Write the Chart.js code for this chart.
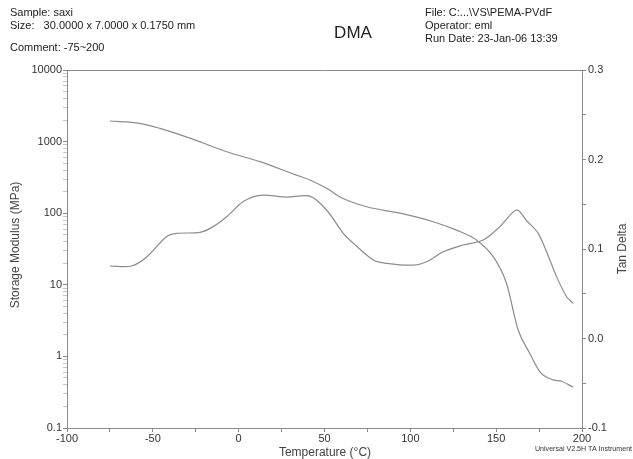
<!DOCTYPE html>
<html>
<head>
<meta charset="utf-8">
<script src="https://cdn.jsdelivr.net/npm/chart.js@4/dist/chart.umd.min.js"></script>
<style>
  html, body { margin: 0; padding: 0; background: #fff; }
  #wrap { position: relative; width: 633px; height: 459px; }
</style>
</head>
<body>
<div id="wrap"><canvas id="dma" width="633" height="459"></canvas></div>
<script>
// temperature (°C) and storage modulus (MPa)
const tempE = [-75, -57.5, -45.8, -26.4, -7, 12.4, 31.8, 41.5, 51.2, 60.9, 74.5, 94, 113.3, 126.9, 138.6, 148.3, 156, 162.8, 169.6, 175.5, 183.2, 188.1, 194.9];
const storageModulus = [1940, 1800, 1530, 1076, 722, 525, 353, 291, 223, 160, 123, 100, 76, 58, 42, 24.7, 10.5, 2.34, 1.1, 0.61, 0.47, 0.45, 0.37];

// temperature (°C) and tan delta
const tempTan = [-75, -62.4, -53.6, -42, -36.1, -22.5, -14.8, -7, 2.7, 12.4, 28, 41.5, 51.2, 60.9, 66.8, 78.4, 86.2, 101.7, 109.5, 119.2, 130.8, 142.5, 152.2, 161.9, 168, 174.5, 181.3, 185.2, 191, 194.9];
const tanDelta = [0.081, 0.081, 0.091, 0.114, 0.1175, 0.1186, 0.125, 0.136, 0.153, 0.160, 0.158, 0.159, 0.1436, 0.1175, 0.1064, 0.0877, 0.084, 0.082, 0.0858, 0.097, 0.1045, 0.110, 0.125, 0.1436, 0.131, 0.1175, 0.0877, 0.069, 0.0467, 0.0393];

const xTickLabels = ['-100', '-50', '0', '50', '100', '150', '200'];
const yTickLabels = ['0.1', '1', '10', '100', '1000', '10000'];
const y2TickLabels = ['-0.1', '0.0', '0.1', '0.2', '0.3'];

const headerLeft = ['Sample: saxi', 'Size:   30.0000 x 7.0000 x 0.1750 mm'];
const headerRight = ['File: C:...\\VS\\PEMA-PVdF', 'Operator: eml', 'Run Date: 23-Jan-06 13:39'];
const comment = 'Comment: -75~200';
const footer = 'Universal V2.5H TA Instrument';

const axisGray = '#8a8a8a';
const lineGray = '#8c8c8c';
const textGray = '#444';
const font = '"Liberation Sans", Arial, sans-serif';

// minor log ticks 0.1 .. 10000
const logTicks = [];
[0.1, 1, 10, 100, 1000].forEach(d => {
  for (let k = 1; k <= 9; k++) logTicks.push(+(d * k).toPrecision(3));
});
logTicks.push(10000);

const isDecade = v => Math.abs(Math.log10(v) - Math.round(Math.log10(v))) < 1e-9;

const textPlugin = {
  id: 'dmaText',
  afterDraw(chart) {
    const ctx = chart.ctx;
    const a = chart.chartArea;
    ctx.save();
    // top edge of the frame
    ctx.strokeStyle = axisGray;
    ctx.lineWidth = 1;
    ctx.beginPath();
    ctx.moveTo(a.left, a.top + 0.5);
    ctx.lineTo(a.right, a.top + 0.5);
    ctx.stroke();

    ctx.fillStyle = '#222';
    ctx.textBaseline = 'alphabetic';
    ctx.textAlign = 'left';
    ctx.font = '11px ' + font;
    ctx.fillText(headerLeft[0], 10, 16);
    ctx.fillText(headerLeft[1], 10, 29);
    ctx.fillText(comment, 10, 51);
    headerRight.forEach((t, i) => ctx.fillText(t, 425, 16 + i * 13));

    ctx.font = '17px ' + font;
    ctx.textAlign = 'center';
    ctx.fillText('DMA', 353, 38);

    ctx.fillStyle = textGray;
    ctx.font = '12px ' + font;
    ctx.fillText('Temperature (\u00B0C)', 325, 456);

    ctx.save();
    ctx.translate(19, 245);
    ctx.rotate(-Math.PI / 2);
    ctx.fillText('Storage Modulus (MPa)', 0, 0);
    ctx.restore();

    ctx.save();
    ctx.translate(626, 249);
    ctx.rotate(-Math.PI / 2);
    ctx.fillText('Tan Delta', 0, 0);
    ctx.restore();

    // footer squeezed to fit the right corner
    ctx.fillStyle = '#333';
    ctx.font = '8px ' + font;
    const w = ctx.measureText(footer).width;
    ctx.font = (8 * 97 / w).toFixed(2) + 'px ' + font;
    ctx.textAlign = 'left';
    ctx.fillText(footer, 535, 451);
    ctx.restore();
  }
};

new Chart(document.getElementById('dma'), {
  type: 'line',
  data: {
    datasets: [
      {
        label: 'Storage Modulus',
        data: tempE.map((t, i) => ({ x: t, y: storageModulus[i] })),
        yAxisID: 'y',
        borderColor: lineGray,
        borderWidth: 1.2,
        pointRadius: 0,
        cubicInterpolationMode: 'monotone',
        fill: false
      },
      {
        label: 'Tan Delta',
        data: tempTan.map((t, i) => ({ x: t, y: tanDelta[i] })),
        yAxisID: 'y2',
        borderColor: lineGray,
        borderWidth: 1.2,
        pointRadius: 0,
        tension: 0.3,
        fill: false
      }
    ]
  },
  options: {
    responsive: false,
    animation: false,
    layout: { padding: { top: 70, left: 0, right: 0, bottom: 0 } },
    plugins: {
      legend: { display: false },
      tooltip: { enabled: false }
    },
    scales: {
      x: {
        type: 'linear',
        min: -100,
        max: 200,
        afterFit: s => { s.height = 31; },
        border: { color: axisGray },
        grid: { drawOnChartArea: false, tickLength: 4, color: axisGray },
        ticks: {
          stepSize: 25,
          autoSkip: false,
          maxRotation: 0,
          padding: 0,
          color: '#333',
          font: { family: font, size: 11 },
          callback: v => (v % 50 === 0 ? xTickLabels[(v + 100) / 50] : '')
        }
      },
      y: {
        type: 'logarithmic',
        position: 'left',
        min: 0.1,
        max: 10000,
        afterFit: s => { s.width = 67; },
        afterBuildTicks: s => { s.ticks = logTicks.map(v => ({ value: v })); },
        border: { color: axisGray },
        grid: {
          drawOnChartArea: false,
          tickLength: 4,
          tickColor: c => (c.tick && isDecade(c.tick.value) ? axisGray : '#c4c4c4')
        },
        ticks: {
          autoSkip: false,
          padding: 1,
          color: '#333',
          font: { family: font, size: 11 },
          callback: v => (isDecade(v) ? yTickLabels[Math.round(Math.log10(v)) + 1] : '')
        }
      },
      y2: {
        type: 'linear',
        position: 'right',
        min: -0.1,
        max: 0.3,
        afterFit: s => { s.width = 51; },
        border: { color: axisGray },
        grid: { drawOnChartArea: false, tickLength: 4, color: axisGray },
        ticks: {
          stepSize: 0.05,
          autoSkip: false,
          padding: 2,
          color: '#333',
          font: { family: font, size: 11 },
          callback: v => {
            const r = Math.round(v * 100);
            return r % 10 === 0 ? y2TickLabels[(r + 10) / 10] : '';
          }
        }
      }
    }
  },
  plugins: [textPlugin]
});
</script>
</body>
</html>
